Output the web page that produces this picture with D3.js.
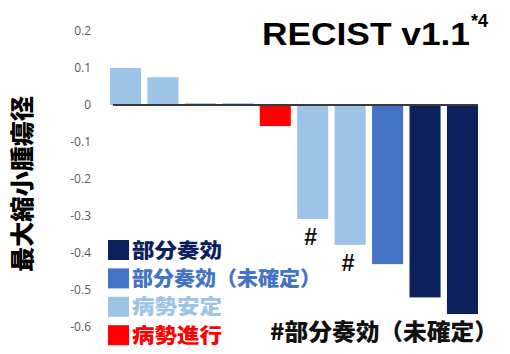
<!DOCTYPE html>
<html><head><meta charset="utf-8">
<script src="https://cdn.jsdelivr.net/npm/d3@7"></script>
<style>body{margin:0;background:#fff}svg{display:block}</style>
</head><body>
<svg id="c" width="510" height="354"></svg>
<script>
const patients = ["1","2","3","4","5","6","7","8","9","10"];
const values = [0.1, 0.075, 0.005, 0.005, -0.057, -0.308, -0.378, -0.43, -0.52, -0.565];
const responses = ["SD","SD","SD","SD","PD","SD#","SD#","uPR","PR","PR"];
const yTicks = [0.2, 0.1, 0, -0.1, -0.2, -0.3, -0.4, -0.5, -0.6];
const tickLabels = ["0.2","0.1","0","-0.1","-0.2","-0.3","-0.4","-0.5","-0.6"];
const legendKeys = ["PR","uPR","SD","PD"];
const legendLabels = ["部分奏効","部分奏効（未確定）","病勢安定","病勢進行"];
const title = "RECIST v1.1";
const titleSup = "*4";
const yLabel = "最大縮小腫瘍径";
const footnote = "#部分奏効（未確定）";

const colorOf = {PR:"#0c215c", uPR:"#4472c4", SD:"#9dc3e6", "SD#":"#9dc3e6", PD:"#ff0000"};

const svg = d3.select("#c");
const x = d3.scaleBand().domain(patients).range([106.8, 481.2]).paddingInner(0.17).paddingOuter(0.085);
const y = d3.scaleLinear().domain([-0.6, 0.2]).range([327, 31]);

// tick labels
const yAxis = d3.axisLeft(y).tickValues(yTicks).tickSize(0).tickPadding(0)
  .tickFormat((d,i)=>tickLabels[i]);
const ga = svg.append("g").attr("transform","translate(91,0)").call(yAxis);
ga.select(".domain").remove();
ga.selectAll("text").attr("fill","#595959").style("font-family","'Open Sans', sans-serif").style("font-size","12px");

// bars
svg.selectAll("rect.bar").data(patients).enter().append("rect").attr("class","bar")
  .attr("x", d=>x(d))
  .attr("width", x.bandwidth())
  .attr("y", (d,i)=>y(Math.max(0, values[i])))
  .attr("height", (d,i)=>Math.abs(y(values[i]) - y(0)))
  .attr("fill", (d,i)=>colorOf[responses[i]]);

// zero line
svg.append("line").attr("x1", x(patients[0])+3).attr("x2", x(patients[9])+x.bandwidth())
  .attr("y1", y(0)).attr("y2", y(0)).attr("stroke","#3a3a3a").attr("stroke-width",1.8);

// # markers
svg.selectAll("text.hash").data(patients.filter((d,i)=>responses[i]==="SD#")).enter().append("text")
  .attr("class","hash")
  .attr("x", d=>x(d)+x.bandwidth()/2 - 2)
  .attr("y", d=>y(values[patients.indexOf(d)]) + 26)
  .attr("text-anchor","middle")
  .style("font-family","'Liberation Sans', sans-serif").style("font-weight","bold").style("font-size","23px")
  .attr("fill","#111").text("#");

// title
svg.append("text").attr("x",262).attr("y",45)
  .style("font-family","'Liberation Sans', Arial, sans-serif").style("font-weight","bold").style("font-size","31px")
  .attr("fill","#000").attr("textLength",208).attr("lengthAdjust","spacingAndGlyphs").text(title);
svg.append("text").attr("x",471).attr("y",27)
  .style("font-family","'Liberation Sans', Arial, sans-serif").style("font-weight","bold").style("font-size","18px")
  .attr("fill","#000").text(titleSup);

// y label
svg.append("text").attr("transform","translate(31,184) rotate(-90)")
  .attr("text-anchor","middle")
  .style("font-family","'Noto Sans CJK JP', sans-serif").style("font-weight","900").style("font-size","24px")
  .attr("fill","#000").attr("textLength",176).attr("lengthAdjust","spacingAndGlyphs").text(yLabel);

// legend
const legendWidths = [90, 189, 90, 90];
const lg = svg.append("g");
legendKeys.forEach((k,i)=>{
  const cy = 250 + i*28.4;
  lg.append("rect").attr("x",108).attr("y",cy-10).attr("width",21).attr("height",20).attr("fill",colorOf[k]);
  lg.append("text").attr("x",132).attr("y",cy+7.5)
    .style("font-family","'Noto Sans CJK JP', sans-serif").style("font-weight","900").style("font-size","20.5px")
    .attr("textLength",legendWidths[i]).attr("lengthAdjust","spacingAndGlyphs")
    .attr("fill",colorOf[k]).text(legendLabels[i]);
});

// footnote
svg.append("text").attr("x",270).attr("y",340)
  .style("font-family","'Noto Sans CJK JP', sans-serif").style("font-weight","900").style("font-size","23px")
  .attr("textLength",228).attr("lengthAdjust","spacingAndGlyphs")
  .attr("fill","#111").text(footnote);
</script>
</body></html>
